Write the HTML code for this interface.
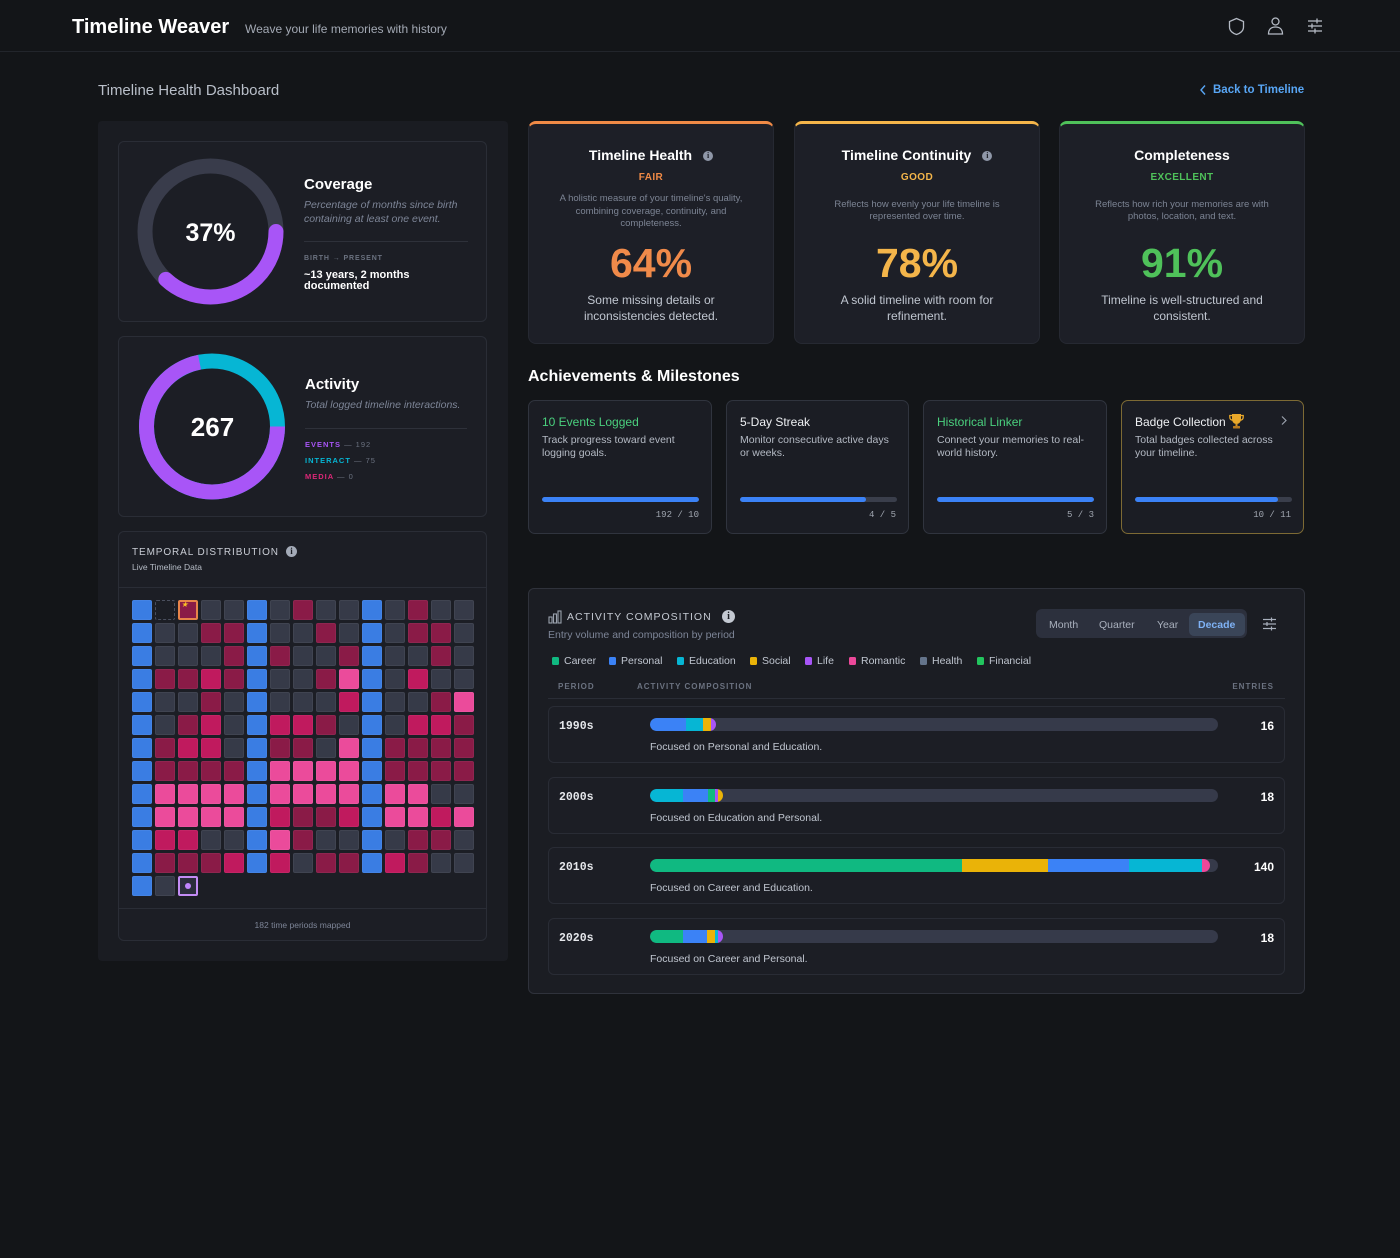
<!DOCTYPE html>
<html><head><meta charset="utf-8"><style>
*{box-sizing:border-box}
body{margin:0;width:1400px;height:1258px;background:#131518;position:relative;overflow:hidden;font-family:"Liberation Sans",Arial,sans-serif;color:#e6e8ec}
.a{position:absolute}
.t{position:absolute;white-space:nowrap;line-height:1}
.card{position:absolute;background:#1c1e25;border:1px solid #2a2d36;border-radius:6px}
.tc{position:absolute;top:121px;width:246px;height:223px;background:#1d1f27;border:1px solid #262932;border-top:3px solid;border-radius:8px}
.tc .c{position:absolute;left:0;width:100%;text-align:center;white-space:nowrap}
.inf{display:inline-block;width:10px;height:10px;border-radius:50%;background:#8f97a8;color:#1d1f27;font-size:8px;font-weight:bold;line-height:10px;text-align:center;vertical-align:middle;font-family:"Liberation Serif",serif}
.ach{position:absolute;top:400px;height:134px;background:#1b1d24;border:1px solid #30343e;border-radius:7px}
.ach .ti{position:absolute;left:13px;top:15px;font-size:12px;line-height:1;white-space:nowrap}
.ach .de{position:absolute;left:13px;top:33px;font-size:10.5px;line-height:13px;color:#b4bac4;white-space:nowrap}
.ach .tr{position:absolute;left:13px;top:96px;width:157px;height:5px;border-radius:3px;background:#3a3e4b;overflow:hidden}
.ach .tr i{display:block;height:100%;background:#3b82f6;border-radius:3px}
.ach .ct{position:absolute;right:12px;top:110px;font-family:"Liberation Mono",monospace;font-size:9px;line-height:1;color:#a0a6b0;white-space:nowrap}
.grid{position:absolute;left:132px;top:600px;display:grid;grid-template-columns:repeat(15,20px);grid-auto-rows:20px;gap:3px}
.grid i{display:block;border-radius:2px;box-shadow:inset 0 0 0 1px rgba(255,255,255,0.05)}
.grid .b{background:#3a7de3}
.grid .g{background:#363a48}
.grid .d{background:#8a1b47}
.grid .m{background:#c01a5e}
.grid .p{background:#eb4b9b}
.grid .e{border:1px dashed #4a4f5e;box-shadow:none}
.grid .s{background:#8a1b47;border:2px solid #e8844a;position:relative;box-shadow:none}
.grid .s:after{content:"★";position:absolute;left:1px;top:-1px;font-size:8px;color:#fbbf24;line-height:1}
.grid .x{background:#2b2d3c;border:2px solid #c38cf5;position:relative;box-shadow:none}
.grid .x:after{content:"";position:absolute;left:5px;top:5px;width:6px;height:6px;border-radius:50%;background:#c084fc}
.row{position:absolute;left:548px;width:737px;height:57px;background:#1c1e25;border:1px solid #292c35;border-radius:6px}
.row .pl{position:absolute;left:10px;top:14px;font-family:"Liberation Mono",monospace;font-weight:bold;font-size:11.5px;line-height:1;color:#e5e7eb}
.row .bar{position:absolute;left:101px;top:11px;width:568px;height:13px;border-radius:7px;background:#363a4a;overflow:hidden}
.row .fill{position:absolute;left:0;top:0;height:13px;border-radius:7px;overflow:hidden;display:flex}
.row .fill i{display:block;height:100%}
.row .n{position:absolute;right:10px;top:13px;font-size:12px;font-weight:bold;line-height:1;color:#fff}
.row .ds{position:absolute;left:101px;top:35px;font-size:10.5px;line-height:1;color:#c0c6d0;white-space:nowrap}
.lg{position:absolute;top:656px;font-size:10.5px;line-height:1;color:#c0c6d0;white-space:nowrap}
.lg i{display:inline-block;width:7px;height:8px;border-radius:1.5px;margin-right:5px;vertical-align:-1px}
.cr{background:#10b981}.pe{background:#3b82f6}.ed{background:#06b6d4}.so{background:#eab308}.li{background:#a855f7}.ro{background:#ec4899}.he{background:#64748b}.fi{background:#22c55e}
</style></head><body>

<!-- header -->
<div class="a" style="left:0;top:0;width:1400px;height:52px;border-bottom:1px solid #22252b"></div>
<div class="t" style="left:72px;top:17px;font-size:20px;font-weight:bold;color:#fff">Timeline Weaver</div>
<div class="t" style="left:245px;top:23px;font-size:12px;color:#a3a9b4">Weave your life memories with history</div>
<svg class="a" style="left:0;top:0" width="1400" height="52">
  <path d="M1236.5 18.5 L1243.5 21.5 V27 C1243.5 31 1240 33.5 1236.5 34.5 C1233 33.5 1229.5 31 1229.5 27 V21.5 Z" fill="none" stroke="#b4bac4" stroke-width="1.3"/>
  <circle cx="1275.5" cy="21.5" r="3.5" fill="none" stroke="#b4bac4" stroke-width="1.3"/>
  <path d="M1268.5 34 C1268.5 29 1271.5 27 1275.5 27 C1279.5 27 1282.5 29 1282.5 34 Z" fill="none" stroke="#b4bac4" stroke-width="1.3"/>
  <g stroke="#b4bac4" stroke-width="1.3">
    <line x1="1308" y1="21" x2="1322" y2="21"/><line x1="1308" y1="26" x2="1322" y2="26"/><line x1="1308" y1="31" x2="1322" y2="31"/>
    <line x1="1317" y1="18.5" x2="1317" y2="23.5"/><line x1="1312" y1="23.5" x2="1312" y2="28.5"/><line x1="1315" y1="28.5" x2="1315" y2="33.5"/>
  </g>
</svg>

<div class="t" style="left:98px;top:83px;font-size:15px;color:#b9bfc9">Timeline Health Dashboard</div>
<svg class="a" style="left:1199px;top:84px" width="8" height="12"><polyline points="6,1.5 2,6 6,10.5" fill="none" stroke="#58a6f5" stroke-width="1.4"/></svg>
<div class="t" style="left:1213px;top:85px;font-size:11.5px;font-weight:bold;color:#58a6f5">Back to Timeline</div>

<!-- left panel -->
<div class="a" style="left:98px;top:121px;width:410px;height:840px;background:#1a1c22;border-radius:4px"></div>

<!-- cards -->
<div class="card" style="left:118px;top:141px;width:369px;height:181px"></div>
<div class="card" style="left:118px;top:336px;width:369px;height:181px"></div>

<svg class="a" style="left:0;top:0" width="500" height="520">
  <circle cx="210.5" cy="231.5" r="65.5" fill="none" stroke="#393c4b" stroke-width="15"/>
  <circle cx="210.5" cy="231.5" r="65.5" fill="none" stroke="#a855f7" stroke-width="15" stroke-linecap="round" stroke-dasharray="152 500"/>
  <circle cx="212" cy="426.5" r="65.5" fill="none" stroke="#06b6d4" stroke-width="15"/>
  <circle cx="212" cy="426.5" r="65.5" fill="none" stroke="#a855f7" stroke-width="15" stroke-dasharray="296 500"/>
</svg>

<!-- coverage -->
<div class="t" style="left:160px;top:221px;width:101px;text-align:center;font-size:25px;font-weight:bold;color:#fff">37%</div>
<div class="t" style="left:304px;top:177px;font-size:15px;font-weight:bold;color:#fff">Coverage</div>
<div class="a" style="left:304px;top:198px;font-size:10.5px;line-height:14px;font-style:italic;color:#7d8597;white-space:nowrap">Percentage of months since birth<br>containing at least one event.</div>
<div class="a" style="left:304px;top:241px;width:164px;height:1px;background:#2e313a"></div>
<div class="t" style="left:304px;top:255px;font-size:7px;font-weight:bold;letter-spacing:0.9px;color:#6b7280">BIRTH → PRESENT</div>
<div class="a" style="left:304px;top:270px;font-size:11px;line-height:11px;font-weight:bold;color:#fff;white-space:nowrap">~13 years, 2 months<br>documented</div>

<!-- activity -->
<div class="t" style="left:162px;top:414px;width:101px;text-align:center;font-size:26px;font-weight:bold;color:#fff">267</div>
<div class="t" style="left:305px;top:377px;font-size:15px;font-weight:bold;color:#fff">Activity</div>
<div class="t" style="left:305px;top:400px;font-size:10.5px;font-style:italic;color:#7d8597">Total logged timeline interactions.</div>
<div class="a" style="left:305px;top:428px;width:162px;height:1px;background:#2e313a"></div>
<div class="t" style="left:305px;top:441px;font-size:7.5px;font-weight:bold;letter-spacing:1px;color:#a855f7">EVENTS <span style="color:#6b7280;font-weight:normal">— 192</span></div>
<div class="t" style="left:305px;top:457px;font-size:7.5px;font-weight:bold;letter-spacing:1px;color:#06b6d4">INTERACT <span style="color:#6b7280;font-weight:normal">— 75</span></div>
<div class="t" style="left:305px;top:473px;font-size:7.5px;font-weight:bold;letter-spacing:1px;color:#db2777">MEDIA <span style="color:#6b7280;font-weight:normal">— 0</span></div>

<!-- temporal distribution -->
<div class="card" style="left:118px;top:531px;width:369px;height:410px"></div>
<div class="t" style="left:132px;top:548px;font-size:10px;letter-spacing:0.9px;color:#c9cdd5">TEMPORAL DISTRIBUTION</div>
<div class="a" style="left:286px;top:546px;width:11px;height:11px;border-radius:50%;background:#a4abb8;color:#1c1e25;font-size:9px;font-weight:bold;line-height:11px;text-align:center;font-family:'Liberation Serif',serif">i</div>
<div class="t" style="left:132px;top:563px;font-size:8.5px;color:#b6bcc6">Live Timeline Data</div>
<div class="a" style="left:119px;top:587px;width:367px;height:1px;background:#2a2d36"></div>
<div class="grid">
<i class="b"></i><i class="e"></i><i class="s"></i><i class="g"></i><i class="g"></i><i class="b"></i><i class="g"></i><i class="d"></i><i class="g"></i><i class="g"></i><i class="b"></i><i class="g"></i><i class="d"></i><i class="g"></i><i class="g"></i>
<i class="b"></i><i class="g"></i><i class="g"></i><i class="d"></i><i class="d"></i><i class="b"></i><i class="g"></i><i class="g"></i><i class="d"></i><i class="g"></i><i class="b"></i><i class="g"></i><i class="d"></i><i class="d"></i><i class="g"></i>
<i class="b"></i><i class="g"></i><i class="g"></i><i class="g"></i><i class="d"></i><i class="b"></i><i class="d"></i><i class="g"></i><i class="g"></i><i class="d"></i><i class="b"></i><i class="g"></i><i class="g"></i><i class="d"></i><i class="g"></i>
<i class="b"></i><i class="d"></i><i class="d"></i><i class="m"></i><i class="d"></i><i class="b"></i><i class="g"></i><i class="g"></i><i class="d"></i><i class="p"></i><i class="b"></i><i class="g"></i><i class="m"></i><i class="g"></i><i class="g"></i>
<i class="b"></i><i class="g"></i><i class="g"></i><i class="d"></i><i class="g"></i><i class="b"></i><i class="g"></i><i class="g"></i><i class="g"></i><i class="m"></i><i class="b"></i><i class="g"></i><i class="g"></i><i class="d"></i><i class="p"></i>
<i class="b"></i><i class="g"></i><i class="d"></i><i class="m"></i><i class="g"></i><i class="b"></i><i class="m"></i><i class="m"></i><i class="d"></i><i class="g"></i><i class="b"></i><i class="g"></i><i class="m"></i><i class="m"></i><i class="d"></i>
<i class="b"></i><i class="d"></i><i class="m"></i><i class="m"></i><i class="g"></i><i class="b"></i><i class="d"></i><i class="d"></i><i class="g"></i><i class="p"></i><i class="b"></i><i class="d"></i><i class="d"></i><i class="d"></i><i class="d"></i>
<i class="b"></i><i class="d"></i><i class="d"></i><i class="d"></i><i class="d"></i><i class="b"></i><i class="p"></i><i class="p"></i><i class="p"></i><i class="p"></i><i class="b"></i><i class="d"></i><i class="d"></i><i class="d"></i><i class="d"></i>
<i class="b"></i><i class="p"></i><i class="p"></i><i class="p"></i><i class="p"></i><i class="b"></i><i class="p"></i><i class="p"></i><i class="p"></i><i class="p"></i><i class="b"></i><i class="p"></i><i class="p"></i><i class="g"></i><i class="g"></i>
<i class="b"></i><i class="p"></i><i class="p"></i><i class="p"></i><i class="p"></i><i class="b"></i><i class="m"></i><i class="d"></i><i class="d"></i><i class="m"></i><i class="b"></i><i class="p"></i><i class="p"></i><i class="m"></i><i class="p"></i>
<i class="b"></i><i class="m"></i><i class="m"></i><i class="g"></i><i class="g"></i><i class="b"></i><i class="p"></i><i class="d"></i><i class="g"></i><i class="g"></i><i class="b"></i><i class="g"></i><i class="d"></i><i class="d"></i><i class="g"></i>
<i class="b"></i><i class="d"></i><i class="d"></i><i class="d"></i><i class="m"></i><i class="b"></i><i class="m"></i><i class="g"></i><i class="d"></i><i class="d"></i><i class="b"></i><i class="m"></i><i class="d"></i><i class="g"></i><i class="g"></i>
<i class="b"></i><i class="g"></i><i class="x"></i>
</div>
<div class="a" style="left:119px;top:908px;width:367px;height:1px;background:#2a2d36"></div>
<div class="t" style="left:118px;top:921px;width:369px;text-align:center;font-size:8.5px;color:#7d8597">182 time periods mapped</div>

<!-- top cards -->
<div class="tc" style="left:528px;border-top-color:#f08a46">
  <div class="c" style="top:24px;font-size:14px;line-height:14px;font-weight:bold;color:#fff">Timeline Health<span class="inf" style="margin-left:11px">i</span></div>
  <div class="c" style="top:49px;font-size:10px;line-height:10px;font-weight:bold;letter-spacing:0.4px;color:#f08a46">FAIR</div>
  <div class="c" style="top:69px;font-size:9.5px;line-height:12.5px;color:#7c8494">A holistic measure of your timeline's quality,<br>combining coverage, continuity, and<br>completeness.</div>
  <div class="c" style="top:119px;font-size:41px;line-height:41px;font-weight:bold;color:#f08a4a">64%</div>
  <div class="c" style="top:168px;font-size:12px;line-height:16px;color:#c0c6d0">Some missing details or<br>inconsistencies detected.</div>
</div>
<div class="tc" style="left:794px;border-top-color:#f4b54a">
  <div class="c" style="top:24px;font-size:14px;line-height:14px;font-weight:bold;color:#fff">Timeline Continuity<span class="inf" style="margin-left:11px">i</span></div>
  <div class="c" style="top:49px;font-size:10px;line-height:10px;font-weight:bold;letter-spacing:0.4px;color:#f4b54a">GOOD</div>
  <div class="c" style="top:75px;font-size:9.5px;line-height:12px;color:#7c8494">Reflects how evenly your life timeline is<br>represented over time.</div>
  <div class="c" style="top:119px;font-size:41px;line-height:41px;font-weight:bold;color:#f4b54a">78%</div>
  <div class="c" style="top:168px;font-size:12px;line-height:16px;color:#c0c6d0">A solid timeline with room for<br>refinement.</div>
</div>
<div class="tc" style="left:1059px;border-top-color:#4fc15a">
  <div class="c" style="top:24px;font-size:14px;line-height:14px;font-weight:bold;color:#fff">Completeness</div>
  <div class="c" style="top:49px;font-size:10px;line-height:10px;font-weight:bold;letter-spacing:0.4px;color:#4fc15a">EXCELLENT</div>
  <div class="c" style="top:75px;font-size:9.5px;line-height:12px;color:#7c8494">Reflects how rich your memories are with<br>photos, location, and text.</div>
  <div class="c" style="top:119px;font-size:41px;line-height:41px;font-weight:bold;color:#4fc15a">91%</div>
  <div class="c" style="top:168px;font-size:12px;line-height:16px;color:#c0c6d0">Timeline is well-structured and<br>consistent.</div>
</div>

<!-- achievements -->
<div class="t" style="left:528px;top:369px;font-size:16px;font-weight:bold;color:#fff">Achievements &amp; Milestones</div>
<div class="ach" style="left:528px;width:184px">
  <div class="ti" style="color:#4ad07e">10 Events Logged</div>
  <div class="de">Track progress toward event<br>logging goals.</div>
  <div class="tr"><i style="width:100%"></i></div>
  <div class="ct">192 / 10</div>
</div>
<div class="ach" style="left:726px;width:183px">
  <div class="ti" style="color:#eef0f3">5-Day Streak</div>
  <div class="de">Monitor consecutive active days<br>or weeks.</div>
  <div class="tr"><i style="width:80%"></i></div>
  <div class="ct">4 / 5</div>
</div>
<div class="ach" style="left:923px;width:184px">
  <div class="ti" style="color:#4ad07e">Historical Linker</div>
  <div class="de">Connect your memories to real-<br>world history.</div>
  <div class="tr"><i style="width:100%"></i></div>
  <div class="ct">5 / 3</div>
</div>
<div class="ach" style="left:1121px;width:183px;border-color:#7d6a34">
  <div class="ti" style="color:#eef0f3">Badge Collection</div>
  <svg class="a" style="left:107px;top:12px" width="15" height="16"><path d="M3 1h9v5c0 3-2 5-4.5 5S3 9 3 6z" fill="#e9a82a"/><path d="M3 2.5H0.8v1.5c0 2 1.2 3 2.6 3.2M12 2.5h2.2v1.5c0 2-1.2 3-2.6 3.2" fill="none" stroke="#e9a82a" stroke-width="1.3"/><rect x="6.5" y="10.5" width="2" height="2.5" fill="#d19220"/><rect x="4" y="13" width="7" height="2.5" rx="0.5" fill="#b7791f"/></svg>
  <svg class="a" style="left:158px;top:14px" width="8" height="11"><polyline points="2,1.5 6,5.5 2,9.5" fill="none" stroke="#9aa1ad" stroke-width="1.2"/></svg>
  <div class="de">Total badges collected across<br>your timeline.</div>
  <div class="tr"><i style="width:91%"></i></div>
  <div class="ct">10 / 11</div>
</div>

<!-- activity composition -->
<div class="a" style="left:528px;top:588px;width:777px;height:406px;background:#1b1d23;border:1px solid #2f323b;border-radius:6px"></div>
<svg class="a" style="left:548px;top:610px" width="14" height="14"><g fill="none" stroke="#9aa1ad" stroke-width="1.1"><rect x="1" y="7" width="3" height="6"/><rect x="5.5" y="4" width="3" height="9"/><rect x="10" y="1" width="3" height="12"/></g></svg>
<div class="t" style="left:567px;top:612px;font-size:10.5px;letter-spacing:1px;color:#c4c9d2">ACTIVITY COMPOSITION</div>
<div class="a" style="left:722px;top:609.5px;width:13px;height:13px;border-radius:50%;background:#c4c9d2;color:#1b1d23;font-size:10px;font-weight:bold;line-height:13px;text-align:center;font-family:'Liberation Serif',serif">i</div>
<div class="t" style="left:548px;top:630px;font-size:10.5px;color:#7d8597">Entry volume and composition by period</div>
<div class="a" style="left:1036px;top:609px;width:211px;height:29px;background:#2c303d;border-radius:6px"></div>
<div class="a" style="left:1189px;top:613px;width:56px;height:23px;background:#3a4558;border-radius:5px"></div>
<div class="t" style="left:1049px;top:620px;font-size:10.5px;color:#a9b0bd">Month</div>
<div class="t" style="left:1099px;top:620px;font-size:10.5px;color:#a9b0bd">Quarter</div>
<div class="t" style="left:1157px;top:620px;font-size:10.5px;color:#a9b0bd">Year</div>
<div class="t" style="left:1198px;top:620px;font-size:10.5px;font-weight:bold;color:#7fb2f5">Decade</div>
<svg class="a" style="left:1262px;top:617px" width="15" height="14"><g stroke="#a9b0bd" stroke-width="1.2"><line x1="1" y1="2.5" x2="14" y2="2.5"/><line x1="1" y1="7" x2="14" y2="7"/><line x1="1" y1="11.5" x2="14" y2="11.5"/><line x1="9.5" y1="0.5" x2="9.5" y2="4.5"/><line x1="5" y1="5" x2="5" y2="9"/><line x1="9.5" y1="9.5" x2="9.5" y2="13.5"/></g></svg>

<div class="lg" style="left:552px"><i class="cr"></i>Career</div>
<div class="lg" style="left:609px"><i class="pe"></i>Personal</div>
<div class="lg" style="left:677px"><i class="ed"></i>Education</div>
<div class="lg" style="left:750px"><i class="so"></i>Social</div>
<div class="lg" style="left:805px"><i class="li"></i>Life</div>
<div class="lg" style="left:849px"><i class="ro"></i>Romantic</div>
<div class="lg" style="left:920px"><i class="he"></i>Health</div>
<div class="lg" style="left:977px"><i class="fi"></i>Financial</div>

<div class="t" style="left:558px;top:683px;font-size:8px;font-weight:bold;letter-spacing:1px;color:#6b7280">PERIOD</div>
<div class="t" style="left:637px;top:683px;font-size:8px;font-weight:bold;letter-spacing:1px;color:#6b7280">ACTIVITY COMPOSITION</div>
<div class="t" style="left:1200px;top:683px;width:74px;text-align:right;font-size:8px;font-weight:bold;letter-spacing:1px;color:#6b7280">ENTRIES</div>
<div class="a" style="left:548px;top:698px;width:737px;height:1px;background:#2a2d36"></div>

<div class="row" style="top:706px">
  <div class="pl">1990s</div>
  <div class="bar"><div class="fill" style="width:66px"><i class="pe" style="width:36px"></i><i class="ed" style="width:17px"></i><i class="so" style="width:8px"></i><i class="li" style="width:5px"></i></div></div>
  <div class="n">16</div>
  <div class="ds">Focused on Personal and Education.</div>
</div>
<div class="row" style="top:777px">
  <div class="pl">2000s</div>
  <div class="bar"><div class="fill" style="width:73px"><i class="ed" style="width:33px"></i><i class="pe" style="width:25px"></i><i class="cr" style="width:7px"></i><i class="li" style="width:3px"></i><i class="so" style="width:5px"></i></div></div>
  <div class="n">18</div>
  <div class="ds">Focused on Education and Personal.</div>
</div>
<div class="row" style="top:847px">
  <div class="pl">2010s</div>
  <div class="bar"><div class="fill" style="width:560px"><i class="cr" style="width:312px"></i><i class="so" style="width:86px"></i><i class="pe" style="width:81px"></i><i class="ed" style="width:73px"></i><i class="ro" style="width:8px"></i></div></div>
  <div class="n">140</div>
  <div class="ds">Focused on Career and Education.</div>
</div>
<div class="row" style="top:918px">
  <div class="pl">2020s</div>
  <div class="bar"><div class="fill" style="width:73px"><i class="cr" style="width:33px"></i><i class="pe" style="width:24px"></i><i class="so" style="width:8px"></i><i class="ed" style="width:3px"></i><i class="li" style="width:5px"></i></div></div>
  <div class="n">18</div>
  <div class="ds">Focused on Career and Personal.</div>
</div>

</body></html>
